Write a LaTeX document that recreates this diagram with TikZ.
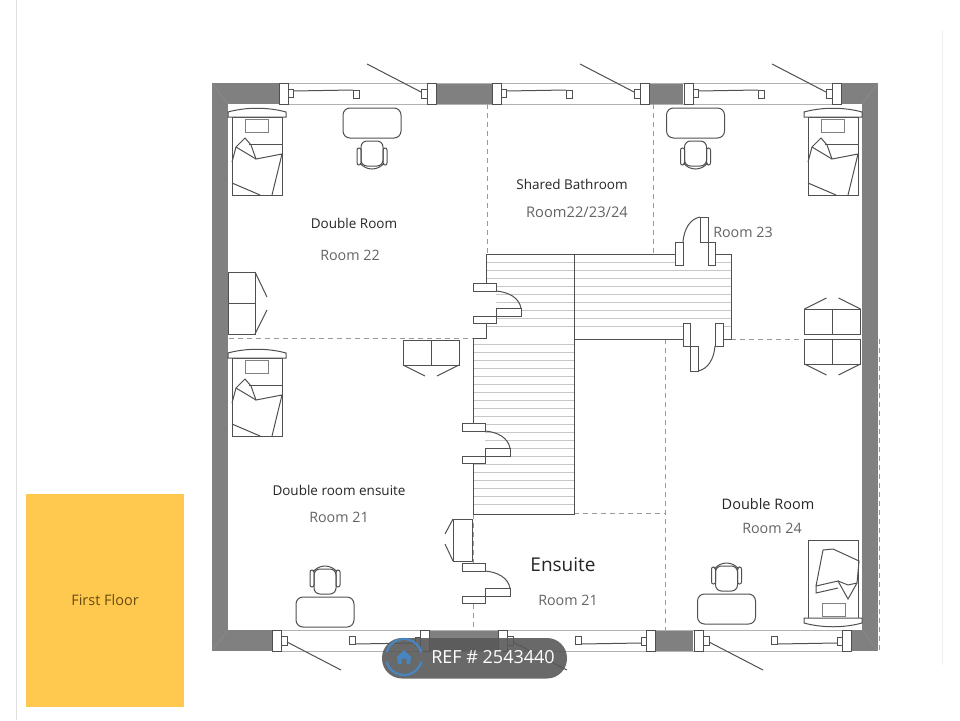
\documentclass[tikz,border=0pt]{standalone}
\usepackage{fontspec}
\setmainfont{Open Sans}
\usepackage{xcolor}
\definecolor{wallgray}{RGB}{128,128,128}
\definecolor{linegray}{RGB}{80,80,80}
\definecolor{labelgray}{RGB}{100,100,100}
\definecolor{floorbox}{RGB}{255,201,79}
\definecolor{badgeblue}{RGB}{70,135,195}
\tikzset{
  wall/.style={fill=wallgray,draw=none},
  furn/.style={draw=linegray,line width=1pt},
  frame/.style={draw=linegray,line width=1pt,fill=white},
  partition/.style={draw=black!40,line width=1pt,dash pattern=on 5pt off 4pt},
  title/.style={text=black!85,font=\fontsize{13.5}{16}\selectfont},
  subtitle/.style={text=labelgray,font=\fontsize{14.3}{17}\selectfont},
  pics/casement/.style={code={
    \draw [frame] (0,0) rectangle (9,21);
    \draw [frame] (148,0) rectangle (157,21);
    \draw [furn] (9,6) rectangle (14,14);
    \draw [furn] (14,8) -- (74,7);
    \draw [furn,fill=white] (74,7) rectangle (80,15);
    \draw [furn] (142,6) rectangle (148,15);
    \draw [furn] (142,9) -- (88,-19);
  }},
  pics/bedframe/.style={code={
    \draw [furn] (0,0) rectangle (50,78);
    \draw [furn,fill=white] (-4,0) -- (-4,-5) .. controls (14,-10) and (36,-10) .. (54,-5) -- (54,0) -- cycle;
    \draw [furn,draw=black!50] (13,2) rectangle (36,15);
  }},
  pics/duvet/.style={code={
    \draw [furn] (0,45) -- (4,30) -- (13,21) -- (19,28) -- (24,42) -- (50,37) -- (40,78);
    \draw [furn] (4,30) -- (24,42);
    \draw [furn] (17,27) -- (50,27);
    \draw [furn] (0,66) -- (28,78);
  }},
  pics/workplace/.style={code={
    \draw [furn,rounded corners=7pt] (-29,0) rectangle (29,30);
    \draw [furn,rounded corners=6pt] (-11,33) rectangle (11,58);
    \draw [furn,rounded corners=2pt] (-15,40) rectangle (-11,57);
    \draw [furn,rounded corners=2pt] (11,40) rectangle (15,57);
    \draw [furn] (-12,55) .. controls (-6,63) and (6,63) .. (12,55);
  }},
  pics/wardrobe/.style={code={
    \draw [furn] (-28,0) rectangle (0,25);
    \draw [furn] (0,0) rectangle (28,25);
    \draw [furn] (-28,25) -- (-6,36);
    \draw [furn] (28,25) -- (6,36);
  }},
  pics/stairdoor/.style={code={
    \draw [draw=none,fill=white] (0,8) rectangle (23,33);
    \draw [frame] (0,0) rectangle (23,8);
    \draw [frame] (0,33) rectangle (23,40);
    \draw [frame] (23,25) rectangle (48,33);
    \draw [furn] (23,8) .. controls (36,9) and (46,15) .. (48,25);
  }}
}
\begin{document}
\begin{tikzpicture}[x=1pt,y=-1pt]
\useasboundingbox (0,0) rectangle (960,720);
\fill [white] (0,0) rectangle (960,720);
\draw [black!12] (16,0) -- (16,720);
\draw [black!6] (942,30) -- (942,665);

% first floor tag
\node (floortag) [fill=floorbox,minimum width=158pt,minimum height=213pt,inner sep=0pt] at (105,600.5) {};
\node (floorlabel) [text={rgb,255:red,105;green,75;blue,15},font=\fontsize{14.5}{17}\selectfont] at (105,600) {First Floor};

% walls
\fill [wall] (212,83) -- (878,83) -- (878,651) -- (212,651) -- cycle;
\fill [white] (228,104) rectangle (862,630);
\fill [white] (279,83) rectangle (436,104);
\fill [white] (492,83) rectangle (649,104);
\fill [white] (683,83) rectangle (841,104);
\fill [white] (272,630) rectangle (429,651);
\fill [white] (498,630) rectangle (655,651);
\fill [white] (693,630) rectangle (851,651);
\draw [black!30] (279,83) -- (841,83);
\draw [black!30] (279,104) -- (841,104);
\draw [black!30] (272,630) -- (851,630);
\draw [black!30] (272,651) -- (851,651);
\draw [wallgray!88!white] (212,83) -- (228,104);
\draw [wallgray!88!white] (878,83) -- (862,104);
\draw [wallgray!88!white] (212,651) -- (228,630);
\draw [wallgray!88!white] (878,651) -- (862,630);

% partitions
\draw [partition] (487.5,104) -- (487.5,254);
\draw [partition] (653,104) -- (653,254);
\draw [partition] (229,338) -- (473,338);
\draw [partition] (731,339) -- (803,339);
\draw [partition] (665,339) -- (665,630);
\draw [partition] (574,513) -- (665,513);
\draw [partition] (473,514) -- (473,630);
\draw [partition] (879,339) -- (879,651);

% windows
\pic at (279,83) {casement};
\pic at (492,83) {casement};
\pic at (684,83) {casement};
\pic [rotate=180] at (429,651) {casement};
\pic [rotate=180] at (655,651) {casement};
\pic [rotate=180] at (851,651) {casement};

% stairs
\foreach \y in {262,270,...,332}
  \draw [black!22,line width=0.8pt] (486,\y) -- (731,\y);
\foreach \y in {344,352,...,510}
  \draw [black!22,line width=0.8pt] (473,\y) -- (574,\y);
\draw [linegray,line width=0.9pt] (486,254) -- (731,254) -- (731,339) -- (574,339) -- (574,514) -- (473,514) -- (473,338) -- (486,338) -- cycle;
\draw [linegray,line width=0.9pt] (574,254) -- (574,339);

% doors
\pic at (473,283) {stairdoor};
\pic at (462,423) {stairdoor};
\pic at (462,563) {stairdoor};
\pic [rotate=90] at (675,265) {stairdoor};
\pic [rotate=-90] at (723,323) {stairdoor};

% beds
\pic at (232,117) {bedframe};
\pic at (232,117) {duvet};
\pic at (232,358) {bedframe};
\pic at (232,358) {duvet};
\pic at (808,117) {bedframe};
\pic at (808,117) {duvet};
\pic [rotate=180] at (858,618) {bedframe};
\draw [furn] (823,550) -- (833,549) -- (859,561) -- (857,583) -- (848,599) -- (838,581) -- (816,586) -- (816,593) -- (838,588);
\draw [furn] (823,550) -- (816,586);
\draw [furn] (838,581) -- (848,585) -- (857,583);

% desks
\pic at (372,108) {workplace};
\pic at (695.5,108) {workplace};
\pic [rotate=180] at (325,627) {workplace};
\pic [rotate=180] at (726.5,624) {workplace};

% wardrobes
\pic at (431,340) {wardrobe};
\pic at (832.5,339) {wardrobe};
\pic [rotate=180] at (832.5,334) {wardrobe};
\draw [furn] (228,272) rectangle (255,303);
\draw [furn] (228,303) rectangle (255,334);
\draw [furn] (255,272) -- (267,297);
\draw [furn] (255,334) -- (267,310);
\draw [furn,fill=white] (453,519) rectangle (472,561);
\draw [furn] (453,519) -- (445,534);
\draw [furn] (453,561) -- (445,544);

% room labels
\node (room22name) [title] at (354,223) {Double Room};
\node (room22) [subtitle] at (350,255) {Room 22};
\node (bathname) [title] at (572,184) {Shared Bathroom};
\node (bathrooms) [subtitle,font=\fontsize{14.7}{17}\selectfont] at (577,212) {Room22/23/24};
\node (room23) [subtitle] at (743,232) {Room 23};
\node (room21name) [title] at (339,490) {Double room ensuite};
\node (room21) [subtitle] at (339,517) {Room 21};
\node (room24name) [title,font=\fontsize{14.5}{17}\selectfont] at (768,504) {Double Room};
\node (room24) [subtitle] at (772,528) {Room 24};
\node (ensuitename) [title,font=\fontsize{19}{23}\selectfont] at (563,565) {Ensuite};
\node (ensuite) [subtitle] at (568,600) {Room 21};

% reference badge
\fill [black!65,fill opacity=0.9,rounded corners=20pt] (382,638) rectangle (567,678.5);
\draw [badgeblue,line width=2.2pt] (404,657) ++(15:18) arc (15:165:18);
\draw [badgeblue,line width=2.2pt] (404,657) ++(195:18) arc (195:345:18);
\fill [badgeblue] (397,657) -- (404,650) -- (411,657) -- (410,664) -- (406.5,664) -- (406.5,658.5) -- (401.5,658.5) -- (401.5,664) -- (398,664) -- cycle;
\node (refbadge) [text=white,font=\fontsize{18}{21}\selectfont] at (493,657.5) {REF \# 2543440};
\end{tikzpicture}
\end{document}
